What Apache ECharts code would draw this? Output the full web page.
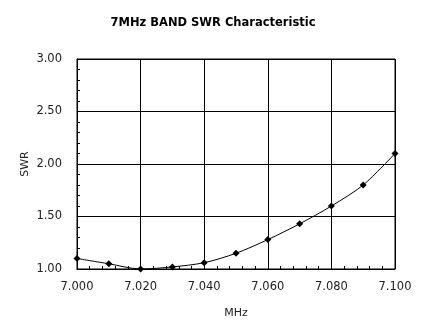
<!DOCTYPE html>
<html>
<head>
<meta charset="utf-8">
<script src="https://cdn.jsdelivr.net/npm/echarts@6/dist/echarts.min.js"></script>
<style>
  html, body { margin: 0; padding: 0; background: #fff; }
  #chart { width: 426px; height: 336px; }
</style>
</head>
<body>
<div id="chart"></div>
<script>
// Measured SWR across the 7 MHz band
const freqMHz = [7.000, 7.010, 7.020, 7.030, 7.040, 7.050, 7.060, 7.070, 7.080, 7.090, 7.100];
const swr     = [1.10, 1.05, 1.00, 1.02, 1.06, 1.15, 1.28, 1.43, 1.60, 1.80, 2.10];

const font = 'DejaVu Sans';
const chart = echarts.init(document.getElementById('chart'), null, { renderer: 'canvas' });

chart.setOption({
  animation: false,
  backgroundColor: '#fff',
  title: {
    text: '7MHz BAND SWR Characteristic',
    left: 'center',
    top: 12,
    textStyle: { fontFamily: font, fontSize: 11.5, fontWeight: 'bold', color: '#000' }
  },
  grid: {
    left: 77, top: 59, width: 318, height: 210,
    show: true, borderColor: '#000', borderWidth: 1, backgroundColor: 'transparent'
  },
  xAxis: {
    type: 'value',
    min: 7.0, max: 7.1, interval: 0.02,
    name: 'MHz', nameLocation: 'middle', nameGap: 39,
    nameTextStyle: { fontFamily: font, fontSize: 11, color: '#222' },
    axisLine: { lineStyle: { color: '#000', width: 1 } },
    axisTick: { show: true, inside: true, length: 1, lineStyle: { color: '#000' } },
    minorTick: { show: true, splitNumber: 5, length: 3, lineStyle: { color: '#000', width: 1 } },
    axisLabel: {
      fontFamily: font, fontSize: 11.5, color: '#222', margin: 12,
      formatter: v => v.toFixed(3)
    },
    splitLine: { show: true, lineStyle: { color: '#000', width: 1 } }
  },
  yAxis: {
    type: 'value',
    min: 1, max: 3, interval: 0.5,
    name: 'SWR', nameLocation: 'middle', nameGap: 46, nameRotate: 90,
    nameMoveOverlap: false,
    nameTextStyle: { fontFamily: font, fontSize: 11, color: '#222' },
    axisLine: { show: true, lineStyle: { color: '#000', width: 1 } },
    axisTick: { show: true, inside: true, length: 1, lineStyle: { color: '#000' } },
    minorTick: { show: true, splitNumber: 5, length: 3, lineStyle: { color: '#000', width: 1 } },
    axisLabel: {
      fontFamily: font, fontSize: 11.5, color: '#222', margin: 15,
      formatter: v => v.toFixed(2)
    },
    splitLine: { show: true, lineStyle: { color: '#000', width: 1 } }
  },
  series: [{
    type: 'line',
    data: freqMHz.map((f, i) => [f, swr[i]]),
    smooth: 0.3,
    symbol: 'diamond',
    symbolSize: 7,
    itemStyle: { color: '#000' },
    lineStyle: { color: '#000', width: 1 }
  }]
});
</script>
</body>
</html>
